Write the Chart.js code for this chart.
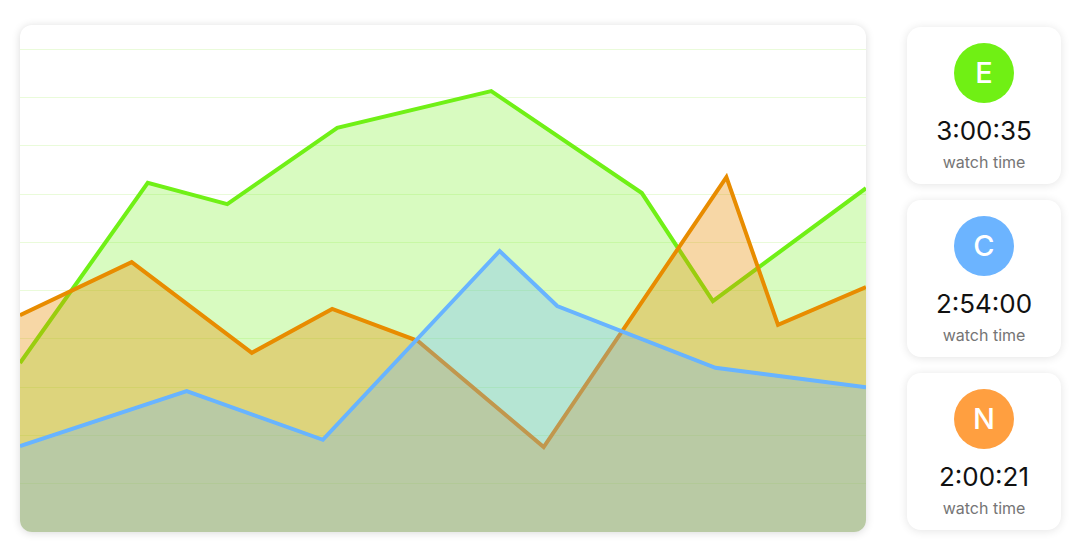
<!DOCTYPE html>
<html>
<head>
<meta charset="utf-8">
<script src="https://cdn.jsdelivr.net/npm/chart.js@4/dist/chart.umd.min.js"></script>
<style>
  html, body { margin: 0; padding: 0; background: #fff; }
  body { width: 1080px; height: 559px; position: relative; font-family: Inter, "Noto Sans", sans-serif; }
  .chart-card {
    position: absolute; left: 20px; top: 25px; width: 846px; height: 507px;
    border-radius: 12px; overflow: hidden; background: #fff;
    box-shadow: 0 1px 9px rgba(0,0,0,0.15);
  }
  .stat {
    position: absolute; left: 907px; width: 154px; height: 157px;
    border-radius: 14px; background: #fff;
    box-shadow: 0 1px 10px rgba(0,0,0,0.11);
    text-align: center;
  }
  .avatar {
    width: 60px; height: 60px; border-radius: 50%; margin: 16px auto 0;
    color: #fff; font-size: 29px; line-height: 60px; font-weight: 500;
  }
  .time { margin-top: 13px; font-size: 26px; color: #111; line-height: 30px; }
  .label { margin-top: 6px; font-size: 16px; color: #757575; line-height: 20px; }
</style>
</head>
<body>
<div class="chart-card"><canvas id="grafico"></canvas></div>
<div id="stats"></div>

<script>
// Dados (x em % da largura, y em unidades do eixo)
const verdeX = [0, 15.1, 24.5, 37.5, 55.7, 73.5, 81.9, 100];
const verdeY = [3.50, 7.23, 6.79, 8.37, 9.13, 7.02, 4.78, 7.12];

const laranjaX = [0, 13.2, 27.4, 36.9, 47.0, 61.9, 83.5, 89.6, 100];
const laranjaY = [4.49, 5.59, 3.71, 4.62, 3.96, 1.76, 7.35, 4.29, 5.07];

const azulX = [0, 19.7, 35.8, 56.7, 63.5, 82.2, 100];
const azulY = [1.78, 2.92, 1.91, 5.82, 4.68, 3.40, 3.00];

const linhasGrade = [1, 2, 3, 4, 5, 6, 7, 8, 9, 10];

const iniciais = ['E', 'C', 'N'];
const tempos = ['3:00:35', '2:54:00', '2:00:21'];
const legenda = 'watch time';

const pontos = (xs, ys) => xs.map((x, i) => ({ x, y: ys[i] }));

// Cards da direita
const cores = ['#70f014', '#6cb4ff', '#ff9f40'];
const topos = [27, 200, 373];
const stats = document.getElementById('stats');
iniciais.forEach((ini, i) => {
  const card = document.createElement('div');
  card.className = 'stat';
  card.style.top = topos[i] + 'px';
  card.innerHTML = `<div class="avatar" style="background:${cores[i]}">${ini}</div>
    <div class="time">${tempos[i]}</div><div class="label">${legenda}</div>`;
  stats.appendChild(card);
});

// Grafico
const ctx = document.getElementById('grafico').getContext('2d');
new Chart(ctx, {
  type: 'line',
  data: {
    datasets: [
      {
        label: 'E',
        data: pontos(verdeX, verdeY),
        borderColor: 'rgb(112,240,22)',
        backgroundColor: 'rgba(112,240,22,0.27)',
        fill: 'origin',
        order: 3
      },
      {
        label: 'N',
        data: pontos(laranjaX, laranjaY),
        borderColor: 'rgb(232,140,0)',
        backgroundColor: 'rgba(232,140,0,0.35)',
        fill: 'origin',
        order: 2
      },
      {
        label: 'C',
        data: pontos(azulX, azulY),
        borderColor: 'rgb(104,180,255)',
        backgroundColor: 'rgba(104,180,255,0.30)',
        fill: 'origin',
        order: 1
      }
    ]
  },
  options: {
    responsive: true,
    maintainAspectRatio: false,
    animation: false,
    layout: { padding: 0 },
    elements: {
      line: { borderWidth: 4, tension: 0, borderJoinStyle: 'miter' },
      point: { radius: 0, hoverRadius: 0 }
    },
    plugins: { legend: { display: false }, tooltip: { enabled: false } },
    scales: {
      x: { type: 'linear', min: 0, max: 100, display: false },
      y: {
        min: 0,
        max: 10.5,
        afterBuildTicks: s => { s.ticks = linhasGrade.map(v => ({ value: v })); },
        ticks: { display: false },
        border: { display: false },
        grid: { color: 'rgba(150,235,70,0.2)', lineWidth: 1, drawTicks: false }
      }
    }
  }
});
</script>
</body>
</html>
